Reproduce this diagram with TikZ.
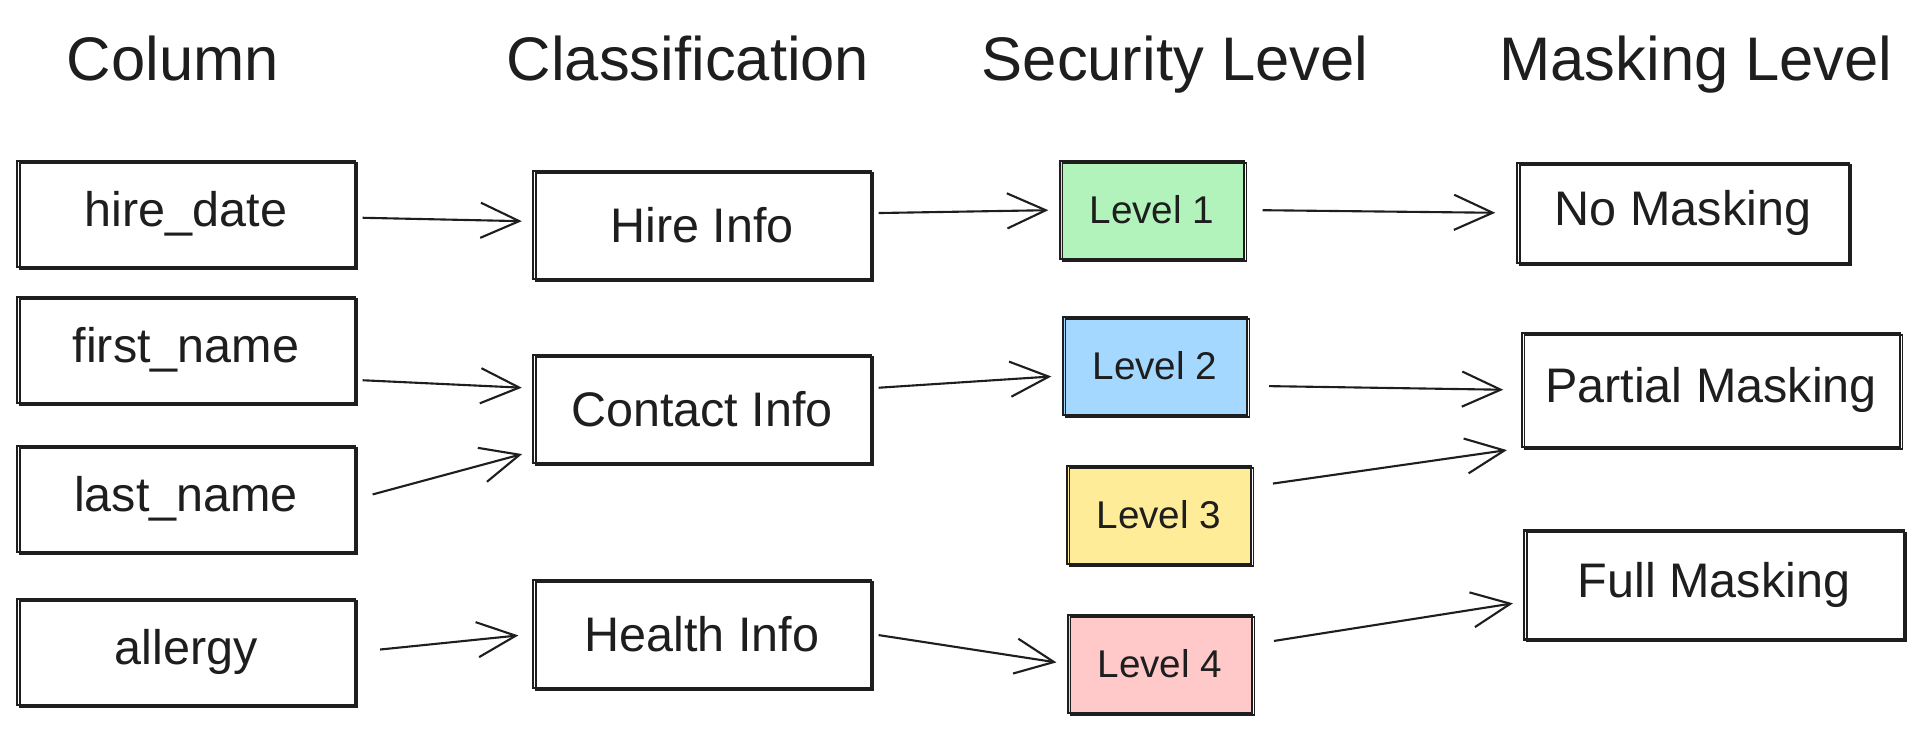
\documentclass[tikz,border=0pt]{standalone}
\usepackage{fontspec}
\setmainfont{Liberation Sans}
\usetikzlibrary{arrows.meta}

\definecolor{ink}{HTML}{1E1E1E}
\definecolor{lvlgreen}{HTML}{B2F2BB}
\definecolor{lvlblue}{HTML}{A5D8FF}
\definecolor{lvlyellow}{HTML}{FFEC99}
\definecolor{lvlred}{HTML}{FFC9C9}

\begin{document}
\begin{tikzpicture}[x=0.01cm, y=-0.01cm,
  head/.style={anchor=base, text=ink, font=\fontsize{17.5}{21}\selectfont},
  box/.style={draw=ink, line width=0.6pt, minimum width=3.37cm, minimum height=1.06cm,
    inner sep=0pt, text=ink, font=\fontsize{13.8}{16}\selectfont,
    postaction={draw=ink, line width=0.45pt, transform canvas={xshift=0.025cm, yshift=-0.02cm}}},
  level/.style={box, minimum width=1.84cm, minimum height=0.98cm, font=\fontsize{11}{13}\selectfont},
  arrow/.style={-{Straight Barb[length=11pt, width=10pt]}, draw=ink, line width=0.6pt,
    shorten <=2pt, shorten >=3pt}
]
  \useasboundingbox (0,0) rectangle (1920,729);

  % Headings
  \node[head] (hcol) at (173,80) {Column};
  \node[head] (hcls) at (688,80) {Classification};
  \node[head] (hsec) at (1175,80) {Security Level};
  \node[head] (hmask) at (1696,80) {Masking Level};

  % Columns
  \node[box] (hire) at (186,214) {hire\_date};
  \node[box] (first) at (186,350) {first\_name};
  \node[box] (last) at (186,499) {last\_name};
  \node[box] (allergy) at (186,652) {allergy};

  % Classifications
  \node[box, minimum height=1.08cm] (hinfo) at (702,225) {Hire Info};
  \node[box, minimum height=1.08cm] (cinfo) at (702,409) {Contact Info};
  \node[box, minimum height=1.08cm] (hlinfo) at (702,634) {Health Info};

  % Security levels
  \node[level, fill=lvlgreen] (lv1) at (1152,210) {Level 1};
  \node[level, fill=lvlblue] (lv2) at (1155,366) {Level 2};
  \node[level, fill=lvlyellow] (lv3) at (1159,515) {Level 3};
  \node[level, fill=lvlred] (lv4) at (1160,664) {Level 4};

  % Masking levels
  \node[box, minimum width=3.31cm, minimum height=1.0cm] (nomask) at (1683,213) {No Masking};
  \node[box, minimum width=3.78cm, minimum height=1.14cm] (partmask) at (1711,390) {Partial Masking};
  \node[box, minimum width=3.79cm, minimum height=1.09cm] (fullmask) at (1714,585) {Full Masking};

  % Arrows
  \draw[arrow] (hire) -- (hinfo);
  \draw[arrow] (first.-10) -- (cinfo.173);
  \draw[arrow, shorten <=5pt] (last.east) -- (cinfo.194);
  \draw[arrow, shorten <=7pt, shorten >=4pt] (allergy.east) -- (hlinfo.west);
  \draw[arrow] (hinfo.4) -- (lv1.west);
  \draw[arrow] (cinfo.7) -- (lv2.186);
  \draw[arrow] (hlinfo.east) -- (lv4.west);
  \draw[arrow, shorten <=5pt, shorten >=6pt] (lv1.east) -- (nomask.west);
  \draw[arrow, shorten <=6pt, shorten >=5pt] (lv2.-12) -- (partmask.west);
  \draw[arrow, shorten <=6pt, shorten >=4pt] (lv3.17) -- (partmask.south west);
  \draw[arrow, shorten <=6pt, shorten >=3pt] (lv4.12) -- (fullmask.185);
\end{tikzpicture}
\end{document}
